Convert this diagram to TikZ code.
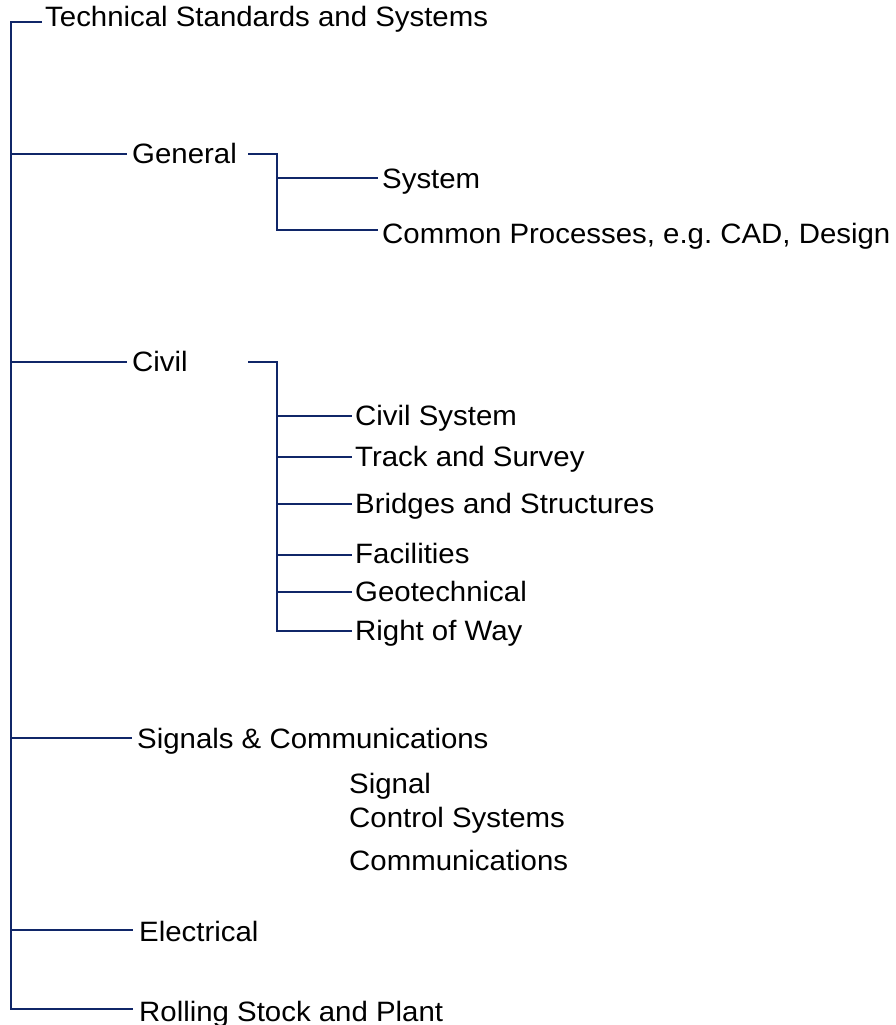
\documentclass[tikz,border=0pt]{standalone}
\usepackage{fontspec}
\setmainfont{Liberation Sans}[FakeStretch=1.05]
\definecolor{navy}{RGB}{16,38,104}
\begin{document}
\frenchspacing
\begin{tikzpicture}[x=1pt,y=-1pt,
  lbl/.style={anchor=base west,inner sep=0pt,font=\fontsize{28}{30}\selectfont,text=black},
  trunk/.style={draw=navy,line width=2.6pt},
  branch/.style={draw=navy,line width=2pt}]
\useasboundingbox (0,0) rectangle (895,1025);
\clip (0,0) rectangle (895,1025);
% labels
\node[lbl] (title) at (45,27) {Technical Standards and Systems};
\node[lbl] (general) at (132,163) {General};
\node[lbl] (system) at (382,188) {System};
\node[lbl] (common) at (382,243) {Common Processes, e.g. CAD, Design};
\node[lbl] (civil) at (132,371) {Civil};
\node[lbl] (civsys) at (355,425) {Civil System};
\node[lbl] (track) at (355,466) {Track and Survey};
\node[lbl] (bridges) at (355,513) {Bridges and Structures};
\node[lbl] (facil) at (355,563) {Facilities};
\node[lbl] (geo) at (355,601) {Geotechnical};
\node[lbl] (row) at (355,640) {Right of Way};
\node[lbl] (signals) at (137,748) {Signals \& Communications};
\node[lbl] (signal) at (349,793) {Signal};
\node[lbl] (control) at (349,827) {Control Systems};
\node[lbl] (comms) at (349,870) {Communications};
\node[lbl] (elec) at (139,941) {Electrical};
\node[lbl] (rolling) at (139,1021) {Rolling Stock and Plant};
% coordinates
\coordinate (t0) at (42,22);
\coordinate (tc) at (11,22);
\coordinate (tb) at (11,1009);
\coordinate (gA) at (127,154);
\coordinate (cA) at (127,362);
\coordinate (sA) at (132,738);
\coordinate (eA) at (133,930);
\coordinate (rA) at (133,1009);
\coordinate (gb0) at (248,154);
\coordinate (gb1) at (277,154);
\coordinate (gs) at (378,178);
\coordinate (gc) at (378,230);
\coordinate (cb0) at (248,362);
\coordinate (cb1) at (277,362);
\coordinate (c1) at (352,416);
\coordinate (c2) at (352,457);
\coordinate (c3) at (352,504);
\coordinate (c4) at (352,555);
\coordinate (c5) at (352,592);
\coordinate (c6) at (352,631);
% trunk
\draw[trunk] (t0) -- (tc) -- (tb) -- (rA);
\draw[branch] (tc |- gA) -- (gA);
\draw[branch] (tc |- cA) -- (cA);
\draw[branch] (tc |- sA) -- (sA);
\draw[branch] (tc |- eA) -- (eA);
% general bracket
\draw[trunk] (gb0) -- (gb1) -- (gb1 |- gc) -- (gc);
\draw[branch] (gb1 |- gs) -- (gs);
% civil bracket
\draw[trunk] (cb0) -- (cb1) -- (cb1 |- c6) -- (c6);
\foreach \c in {c1,c2,c3,c4,c5} \draw[branch] (cb1 |- \c) -- (\c);
\end{tikzpicture}
\end{document}
